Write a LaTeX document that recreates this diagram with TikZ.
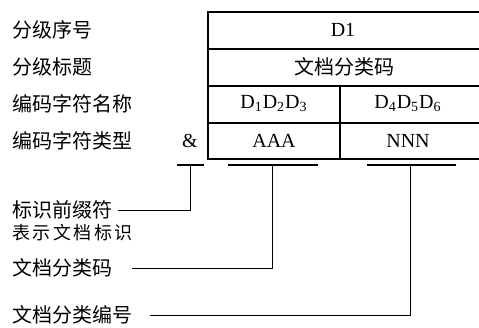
\documentclass[tikz,border=0pt]{standalone}
\usepackage{fontspec}
\setmainfont{Liberation Serif}
\newfontfamily\cjk{Noto Sans CJK SC}
\newfontfamily\cjkwide[LetterSpace=14]{Noto Sans CJK SC}
\usetikzlibrary{positioning}

\begin{document}
\begin{tikzpicture}[x=0.5pt, y=-0.5pt, font=\fontsize{10}{12}\selectfont,
  lbl/.style={anchor=west, inner sep=0pt, font=\cjk\fontsize{10}{12}\selectfont},
  cell/.style={inner sep=0pt},
  tabline/.style={line width=1pt},
  lead/.style={line width=0.5pt}]
  \useasboundingbox (0,0) rectangle (479,328);

  % table
  \draw[tabline] (479,12) -- (208,12) -- (208,159) -- (479,159);
  \draw[tabline] (208,49) -- (479,49) (208,86) -- (479,86) (208,123) -- (479,123);
  \draw[tabline] (340,86) -- (340,159);

  \node[cell] (d1)    at (343,30)  {D1};
  \node[cell, font=\cjk\fontsize{10}{12}\selectfont] (title) at (345,67) {文档分类码};
  \node[cell] (nameA) at (274,104) {D\textsubscript{1}D\textsubscript{2}D\textsubscript{3}};
  \node[cell] (nameN) at (408,104) {D\textsubscript{4}D\textsubscript{5}D\textsubscript{6}};
  \node[cell] (typeA) at (274,141) {AAA};
  \node[cell] (typeN) at (408,141) {NNN};
  \node[cell] (amp)   at (190,141) {\&};

  % row labels
  \node[lbl] (seq)   at (12,30)  {分级序号};
  \node[lbl] (head)  at (12,67)  {分级标题};
  \node[lbl] (cname) at (12,104) {编码字符名称};
  \node[lbl] (ctype) at (12,141) {编码字符类型};

  % underline bars
  \coordinate (ampbar) at (191,165);
  \coordinate (aaabar) at (273,165);
  \coordinate (nnnbar) at (411,165);
  \draw[tabline] (177,165) -- (204,165);
  \draw[tabline] (228,165) -- (318,165);
  \draw[tabline] (367,165) -- (456,165);

  % legend
  \node[lbl] (prefix) at (12,210) {标识前缀符};
  \node[lbl, font=\cjkwide\fontsize{9}{11}\selectfont] (prefixnote) at (12,233) {表示文档标识};
  \node[lbl] (clscode) at (12,268) {文档分类码};
  \node[lbl] (clsnum)  at (12,315) {文档分类编号};

  \coordinate (prefixend)  at (118,210);
  \coordinate (clscodeend) at (132,268);
  \coordinate (clsnumend)  at (150,315);

  \draw[lead] (ampbar) |- (prefixend);
  \draw[lead] (aaabar) |- (clscodeend);
  \draw[lead] (nnnbar) |- (clsnumend);
\end{tikzpicture}
\end{document}
